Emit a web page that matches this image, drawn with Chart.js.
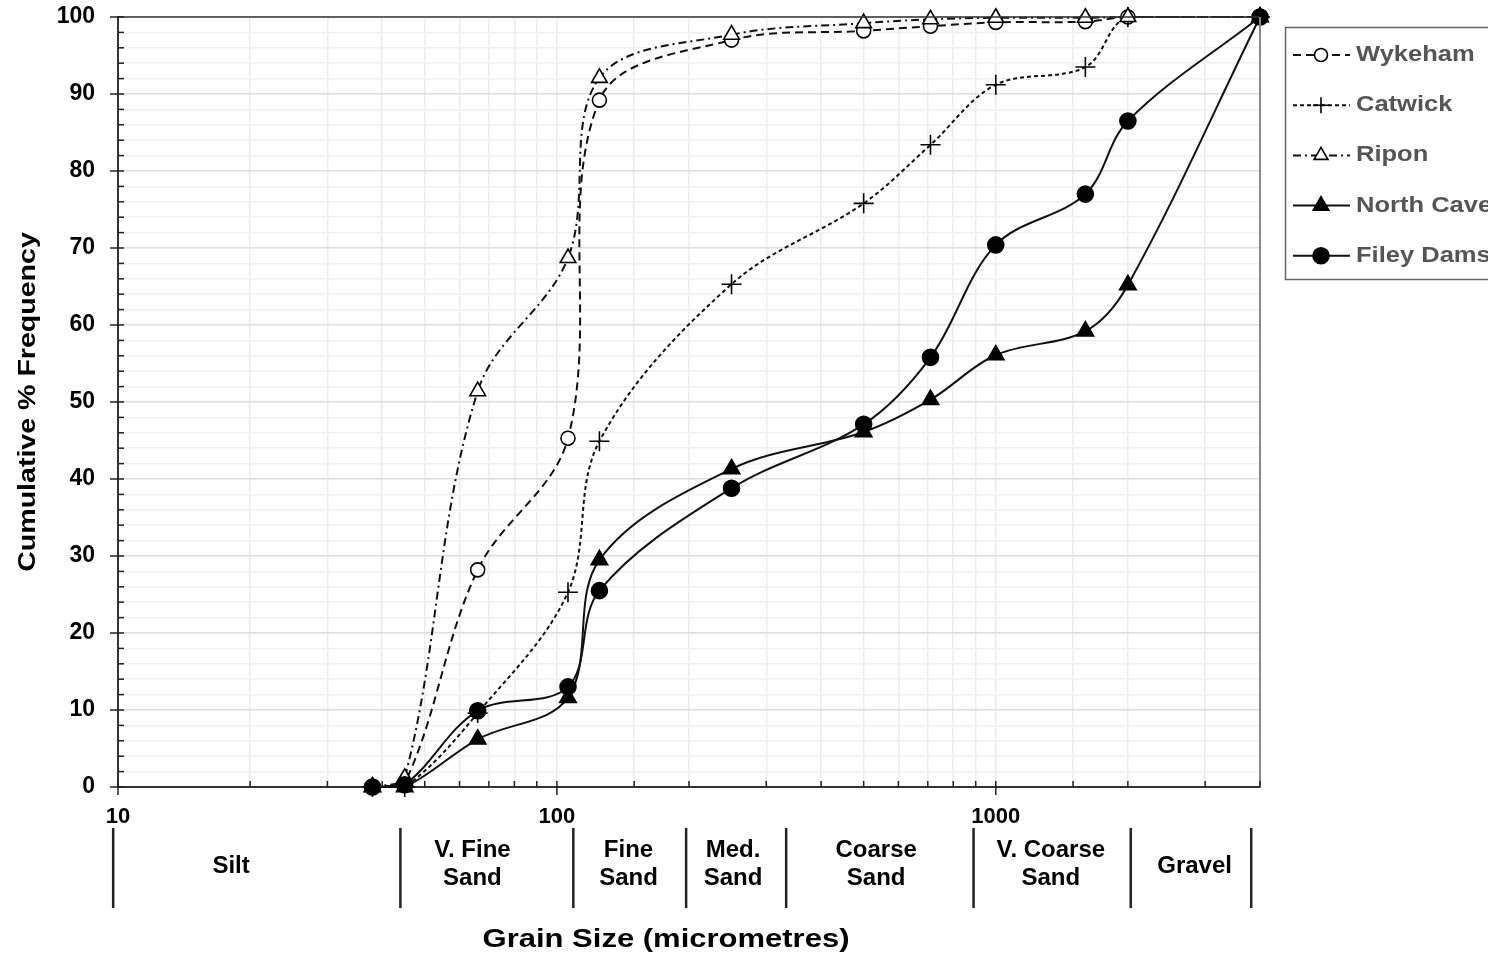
<!DOCTYPE html>
<html>
<head>
<meta charset="utf-8">
<script src="https://cdn.jsdelivr.net/npm/chart.js@4.4.1/dist/chart.umd.min.js"></script>
<style>
  html, body { margin: 0; padding: 0; background: #fff; overflow: hidden; }
  #wrap { width: 1488px; height: 963px; position: relative; }
</style>
</head>
<body>
<div id="wrap"><canvas id="c"></canvas></div>
<script>
// sieve sizes (micrometres) and cumulative % per site
const sizes     = [38, 45, 66, 106, 125, 250, 500, 710, 1000, 1600, 2000, 4000];
const wykeham   = [0, 0.5, 28.2, 45.3, 89.2, 97.0, 98.2, 98.8, 99.3, 99.4, 100, 100];
const catwick   = [0, 0, 9.6, 25.3, 44.9, 65.3, 75.8, 83.4, 91.2, 93.5, 100, 100];
const ripon     = [0, 1.2, 51.4, 68.7, 92.1, 97.7, 99.2, 99.7, 99.9, 99.9, 100, 100];
const northCave = [0, 0, 6.2, 11.6, 29.5, 41.3, 46.1, 50.3, 56.1, 59.2, 65.2, 100];
const fileyDams = [0, 0.3, 9.9, 13.0, 25.5, 38.8, 47.1, 55.8, 70.4, 77.0, 86.5, 100];
const seriesNames = ['Wykeham', 'Catwick', 'Ripon', 'North Cave', 'Filey Dams'];
const xTickLabels = [10, 100, 1000];

// grain size classes shown under the axis
const classNames   = [['Silt'], ['V. Fine', 'Sand'], ['Fine', 'Sand'], ['Med.', 'Sand'], ['Coarse', 'Sand'], ['V. Coarse', 'Sand'], ['Gravel']];
const classBounds  = [9.75, 44, 109, 197, 333, 890, 2030, 3820];
const classCentres = [18.1, 64.2, 145.6, 252, 534, 1335, 2838];

const FONT = "'Liberation Sans', Arial, Helvetica, sans-serif";

const looks = [
  { dash: [8, 5],        style: 'circle',   fill: '#fff', r: 7,   lr: 6.5 },
  { dash: [4, 3],        style: 'cross',    fill: '#000', r: 10,  lr: 8 },
  { dash: [8, 4, 2, 4],  style: 'triangle', fill: '#fff', r: 9,   lr: 8 },
  { dash: [],            style: 'triangle', fill: '#000', r: 9.5, lr: 9 },
  { dash: [],            style: 'circle',   fill: '#000', r: 8,   lr: 8 }
];

const allSeries = [wykeham, catwick, ripon, northCave, fileyDams];

const datasets = allSeries.map((vals, k) => ({
  label: seriesNames[k],
  data: sizes.map((x, i) => ({ x: x, y: vals[i] })),
  order: allSeries.length - k, // filled markers end up on top
  borderColor: '#111',
  borderWidth: 2,
  borderDash: looks[k].dash,
  pointStyle: looks[k].style,
  pointRadius: looks[k].r,
  pointBackgroundColor: looks[k].fill,
  pointBorderColor: '#000',
  pointBorderWidth: 1.6,
  tension: 0.35,
  fill: false,
  clip: false
}));

function stretchedText(ctx, text, x, y, size, sx, align, color) {
  ctx.save();
  ctx.translate(x, y);
  ctx.scale(sx, 1);
  ctx.font = 'bold ' + size + 'px ' + FONT;
  ctx.fillStyle = color || '#000';
  ctx.textAlign = align;
  ctx.textBaseline = 'middle';
  ctx.fillText(text, 0, 0);
  ctx.restore();
}

const decorations = {
  id: 'decorations',
  afterDraw(chart) {
    const ctx = chart.ctx;
    const ca = chart.chartArea;
    const xs = chart.scales.x;
    const ys = chart.scales.y;

    ctx.save();
    // top and right frame
    ctx.strokeStyle = '#333';
    ctx.lineWidth = 1.5;
    ctx.beginPath();
    ctx.moveTo(ca.left, ca.top);
    ctx.lineTo(ca.right, ca.top);
    ctx.stroke();
    ctx.strokeStyle = '#888';
    ctx.lineWidth = 2;
    ctx.beginPath();
    ctx.moveTo(ca.right, ca.top);
    ctx.lineTo(ca.right, ca.bottom);
    ctx.stroke();

    // y ticks
    ctx.strokeStyle = '#222';
    ctx.lineWidth = 1.5;
    ys.ticks.forEach(t => {
      const y = ys.getPixelForValue(t.value);
      const major = t.value % 10 === 0;
      ctx.beginPath();
      ctx.moveTo(ca.left - (major ? 8 : 0), y);
      ctx.lineTo(ca.left + 6, y);
      ctx.stroke();
    });
    // x ticks
    xs.ticks.forEach(t => {
      const x = xs.getPixelForValue(t.value);
      const major = xTickLabels.includes(t.value);
      ctx.beginPath();
      ctx.moveTo(x, ca.bottom + (major ? 8 : 0));
      ctx.lineTo(x, ca.bottom - 6);
      ctx.stroke();
    });

    // grain class separators
    ctx.strokeStyle = '#222';
    ctx.lineWidth = 2.5;
    classBounds.forEach(b => {
      const x = xs.getPixelForValue(b);
      ctx.beginPath();
      ctx.moveTo(x, ca.bottom + 41);
      ctx.lineTo(x, ca.bottom + 121);
      ctx.stroke();
    });
    classNames.forEach((lines, i) => {
      const x = xs.getPixelForValue(classCentres[i]);
      if (lines.length === 1) {
        stretchedText(ctx, lines[0], x, ca.bottom + 79, 24, 1, 'center');
      } else {
        stretchedText(ctx, lines[0], x, ca.bottom + 63, 24, 1, 'center');
        stretchedText(ctx, lines[1], x, ca.bottom + 91, 24, 1, 'center');
      }
    });

    // axis titles
    stretchedText(ctx, 'Grain Size (micrometres)', ca.left + 548, ca.bottom + 153, 25, 1.24, 'center');
    ctx.save();
    ctx.translate(28, (ca.top + ca.bottom) / 2);
    ctx.rotate(-Math.PI / 2);
    stretchedText(ctx, 'Cumulative % Frequency', 0, 0, 24, 1.19, 'center');
    ctx.restore();

    // legend
    const lx = ca.right + 25;
    ctx.strokeStyle = '#666';
    ctx.lineWidth = 1.5;
    ctx.strokeRect(lx + 0.5, 27.5, 320, 252);
    seriesNames.forEach((name, k) => {
      const y = 55 + k * 50.2;
      ctx.save();
      ctx.strokeStyle = '#111';
      ctx.lineWidth = 2;
      ctx.setLineDash(looks[k].dash);
      ctx.beginPath();
      ctx.moveTo(lx + 8, y);
      ctx.lineTo(lx + 65, y);
      ctx.stroke();
      ctx.setLineDash([]);
      ctx.fillStyle = looks[k].fill;
      ctx.strokeStyle = '#000';
      ctx.lineWidth = 1.6;
      Chart.helpers.drawPoint(ctx, { pointStyle: looks[k].style, radius: looks[k].lr, rotation: 0, borderWidth: 1.6 }, lx + 36, y);
      ctx.restore();
      stretchedText(ctx, name, lx + 71, y, 22, 1.16, 'left', '#555');
    });
    ctx.restore();
  }
};

new Chart(document.getElementById('c'), {
  type: 'line',
  data: { datasets: datasets },
  options: {
    responsive: true,
    maintainAspectRatio: false,
    devicePixelRatio: 1,
    animation: false,
    layout: { padding: { top: 17, right: 228, left: 0, bottom: 0 } },
    plugins: { legend: { display: false }, tooltip: { enabled: false } },
    scales: {
      x: {
        type: 'logarithmic',
        min: 10,
        max: 4000,
        ticks: {
          autoSkip: false,
          maxRotation: 0,
          padding: 17,
          color: '#000',
          font: { family: FONT, size: 22, weight: 'bold' },
          callback: v => xTickLabels.includes(v) ? String(v) : ''
        },
        grid: { drawTicks: false, color: '#ececec', lineWidth: 1.5 },
        border: { color: '#333', width: 2 },
        afterFit: s => { s.height = 176; s.paddingLeft = 0; s.paddingRight = 0; }
      },
      y: {
        min: 0,
        max: 100,
        ticks: {
          stepSize: 2,
          autoSkip: false,
          padding: 23,
          color: '#000',
          font: { family: FONT, size: 23, weight: 'bold' },
          callback: v => v % 10 === 0 ? String(v) : ''
        },
        grid: {
          drawTicks: false,
          lineWidth: 1.5,
          color: c => (c.tick && c.tick.value % 10 === 0) ? '#dedede' : '#f0f0f0'
        },
        border: { color: '#333', width: 2 },
        afterFit: s => { s.width = 118; s.paddingTop = 0; s.paddingBottom = 0; }
      }
    }
  },
  plugins: [decorations]
});
</script>
</body>
</html>
